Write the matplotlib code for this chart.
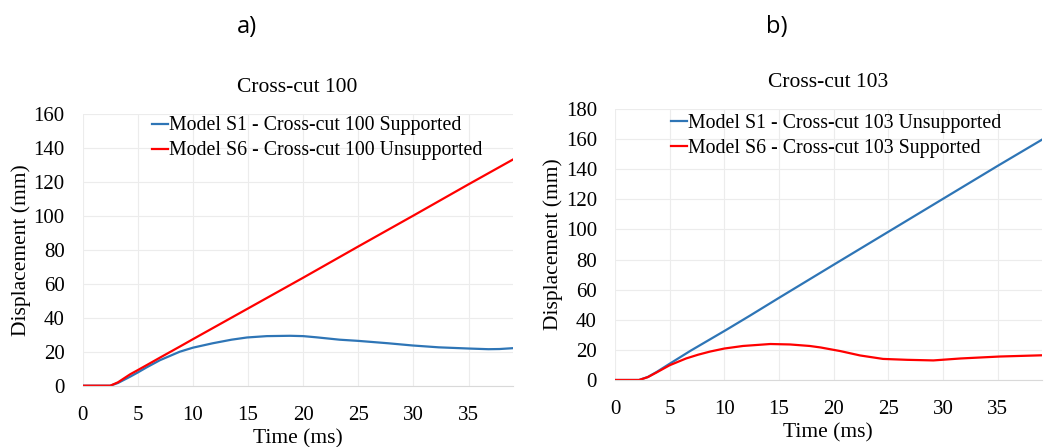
import matplotlib.pyplot as plt

plt.rcParams["font.family"] = ["Liberation Serif", "DejaVu Serif"]

# Cross-cut 100
t_s1_100 = [0, 2.5, 3.2, 4.3, 5.0, 5.8, 7.0, 8.8, 10.0, 11.8, 13.5, 14.9, 16.7, 18.8,
            20.0, 21.2, 23.3, 25.0, 27.7, 29.9, 32.3, 35.0, 36.8, 37.8, 39.0]
s1_100 = [0, 0, 1.6, 5.3, 7.8, 10.8, 15.0, 20.0, 22.4, 25.0, 27.1, 28.4, 29.2, 29.4,
          29.2, 28.5, 27.1, 26.4, 25.0, 23.7, 22.6, 21.9, 21.5, 21.6, 22.1]
t_s6_100 = [0, 2.5, 3.2, 4.3, 5.0, 5.8, 7.0, 8.8, 10, 15, 20, 25, 30, 35, 39]
s6_100 = [0, 0, 2.0, 6.7, 9.2, 12.1, 16.5, 23.0, 27.4, 45.5, 63.6, 82.0, 100.2, 118.6, 133.1]

# Cross-cut 103
t_s1_103 = [0, 2.2, 3.0, 3.8, 5.0, 6.9, 10.15, 12.35, 15, 20, 25, 30, 35, 39]
s1_103 = [0, 0, 2.0, 5.3, 10.8, 19.4, 33.2, 42.8, 54.6, 76.6, 98.5, 120.4, 142.3, 159.5]
t_s6_103 = [0, 2.2, 3.0, 3.8, 5.0, 6.5, 7.6, 8.7, 10.0, 11.7, 14.2, 16.0, 17.8, 18.8, 20.6,
            22.4, 24.5, 26.7, 29.1, 31.6, 35.2, 39.0]
s6_103 = [0, 0, 1.9, 5.0, 9.8, 14.3, 16.8, 18.9, 20.9, 22.6, 23.9, 23.6, 22.6, 21.6, 19.2,
          16.3, 14.0, 13.4, 13.0, 14.3, 15.6, 16.4]

BLUE = "#2E75B6"
RED = "#FF0000"


def style_axes(ax, ymax, ystep):
    ax.set_xlim(0, 39)
    ax.set_ylim(0, ymax)
    ax.set_xticks(range(0, 36, 5))
    ax.set_yticks(range(0, ymax + 1, ystep))
    for side in ["top", "right", "left"]:
        ax.spines[side].set_visible(False)
    ax.spines["bottom"].set_color("#d9d9d9")
    ax.grid(True, color="#ececec", linewidth=0.8)
    ax.set_axisbelow(True)
    ax.tick_params(length=0, labelsize=15)
    ax.tick_params(axis="y", pad=13)
    ax.tick_params(axis="x", pad=14.5)
    ax.set_xlabel("Time (ms)", fontsize=15.5, labelpad=3)
    ax.set_ylabel("Displacement (mm)", fontsize=15.5, labelpad=2)


fig = plt.figure(figsize=(10.45, 4.47), dpi=100)

ax1 = fig.add_axes([0.0791, 0.1371, 0.4115, 0.6079])
ax1.plot(t_s1_100, s1_100, color=BLUE, lw=1.6, label="Model S1 - Cross-cut 100 Supported")
ax1.plot(t_s6_100, s6_100, color=RED, lw=1.6, label="Model S6 - Cross-cut 100 Unsupported")
style_axes(ax1, 160, 20)
ax1.set_title("Cross-cut 100", fontsize=15.5, pad=15.5)
ax1.legend(loc="upper left", bbox_to_anchor=(0.143, 1.02), frameon=False,
           fontsize=14.3, handlelength=0.8, handletextpad=0.05,
           labelspacing=0.3, borderaxespad=0)

ax2 = fig.add_axes([0.5885, 0.1499, 0.4083, 0.6063])
ax2.plot(t_s1_103, s1_103, color=BLUE, lw=1.6, label="Model S1 - Cross-cut 103 Unsupported")
ax2.plot(t_s6_103, s6_103, color=RED, lw=1.6, label="Model S6 - Cross-cut 103 Supported")
style_axes(ax2, 180, 20)
ax2.set_title("Cross-cut 103", fontsize=15.5, pad=15.5)
ax2.legend(loc="upper left", bbox_to_anchor=(0.112, 1.01), frameon=False,
           fontsize=14.3, handlelength=0.8, handletextpad=0.05,
           labelspacing=0.3, borderaxespad=0)

fig.text(247 / 1045, 1 - 27 / 447, "a)", fontsize=17, family=["Open Sans", "DejaVu Sans"],
         ha="center", va="center")
fig.text(777 / 1045, 1 - 27 / 447, "b)", fontsize=17, family=["Open Sans", "DejaVu Sans"],
         ha="center", va="center")

fig.savefig("out.png", dpi=100)
